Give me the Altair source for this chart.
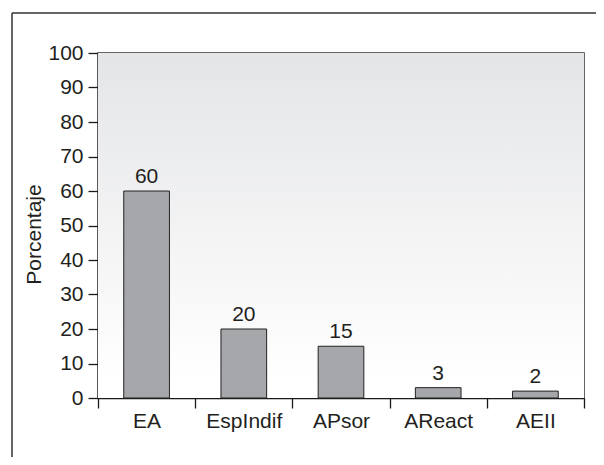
import altair as alt
import pandas as pd

categories = ["EA", "EspIndif", "APsor", "AReact", "AEII"]
values = [60, 20, 15, 3, 2]
y_ticks = [0, 10, 20, 30, 40, 50, 60, 70, 80, 90, 100]

df = pd.DataFrame({"cat": categories, "val": values})

W, H = 486, 345
FONT = "Liberation Sans"
FS = 21
TXT = "#231f20"
LINE = "#1a1a1a"

x_enc = alt.X(
    "cat:N", sort=categories, title=None,
    scale=alt.Scale(paddingInner=0, paddingOuter=0),
    axis=alt.Axis(labelAngle=0, tickBand="extent", tickSize=10, labelPadding=2,
                  labelFontSize=FS, labelFont=FONT, labelColor=TXT,
                  domainColor=LINE, tickColor=LINE, domainWidth=1.3, tickWidth=1.3),
)
y_enc = alt.Y(
    "val:Q",
    scale=alt.Scale(domain=[0, 100], nice=False),
    axis=alt.Axis(values=y_ticks, tickCount=11, labelOverlap=False, title="Porcentaje",
                  tickSize=10, labelPadding=5,
                  labelFontSize=FS, labelFont=FONT, labelColor=TXT,
                  titleFontSize=FS, titleFont=FONT, titleColor=TXT, titleFontWeight="normal",
                  titleX=-64, titleY=181, titleAlign="center", titleBaseline="middle", titleAngle=-90,
                  domainColor=LINE, tickColor=LINE, domainWidth=1.3, tickWidth=1.3, grid=False),
)

gradient = alt.LinearGradient(gradient="linear", x1=0, x2=0, y1=0, y2=1,
                              stops=[alt.GradientStop(offset=0, color="#e4e5e7"),
                                     alt.GradientStop(offset=0.95, color="#ffffff"),
                                     alt.GradientStop(offset=1, color="#ffffff")])

frame_df = pd.DataFrame({"k": [0]})
bg = alt.Chart(frame_df).mark_rect(fill=gradient, strokeWidth=0).encode(
    x=alt.value(0), x2=alt.value(W), y=alt.value(0), y2=alt.value(H))

base = alt.Chart(df)
bars = base.mark_bar(width=alt.RelativeBandSize(0.47), fill="#a6a7aa",
                     stroke="#222222", strokeWidth=1).encode(x=x_enc, y=y_enc)
labels = base.mark_text(baseline="alphabetic", dy=-8, fontSize=FS, font=FONT,
                        color=TXT).encode(x=alt.X("cat:N", sort=categories), y="val:Q", text="val:Q")

left_line = alt.Chart(frame_df).mark_rule(color="#333333", strokeWidth=1.5).encode(
    x=alt.value(-86), y=alt.value(-40), y2=alt.value(H + 80))
top_line = alt.Chart(frame_df).mark_rule(color="#333333", strokeWidth=1.5).encode(
    x=alt.value(-86), x2=alt.value(W + 30), y=alt.value(-40))

chart = alt.layer(bg, bars, labels, left_line, top_line).properties(
    width=W, height=H,
    autosize=alt.AutoSizeParams(type="none"),
    padding={"left": 90, "top": 45, "right": 12, "bottom": 59},
    background="white",
).configure_view(
    stroke="#333333", strokeWidth=1.5,
)

chart.save("out.html", embed_options={"renderer": "svg", "actions": False})
